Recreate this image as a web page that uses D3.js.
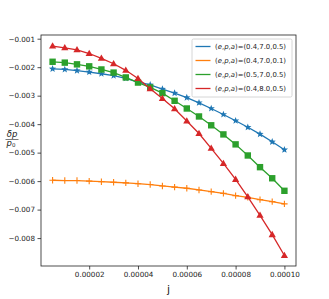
<!DOCTYPE html>
<html>
<head>
<meta charset="utf-8">
<script src="https://cdn.jsdelivr.net/npm/d3@7"></script>
<style>
  html, body { margin: 0; padding: 0; background: #fff; }
  svg { display: block; font-family: "DejaVu Sans", sans-serif; }
</style>
</head>
<body>
<div id="chart"></div>
<script>
// x values (j), 20 steps of 5e-6
const jValues = [5e-6, 1e-5, 1.5e-5, 2e-5, 2.5e-5, 3e-5, 3.5e-5, 4e-5, 4.5e-5, 5e-5,
                 5.5e-5, 6e-5, 6.5e-5, 7e-5, 7.5e-5, 8e-5, 8.5e-5, 9e-5, 9.5e-5, 1e-4];

const seriesA = [-0.00206, -0.00208, -0.00212, -0.00217, -0.00223, -0.00230, -0.00239, -0.00252, -0.00262, -0.00277,
                 -0.00291, -0.00307, -0.00325, -0.00345, -0.00366, -0.00388, -0.00411, -0.00435, -0.00462, -0.00490];
const seriesB = [-0.00597, -0.00598, -0.00598, -0.00600, -0.00602, -0.00604, -0.00606, -0.00609, -0.00612, -0.00617,
                 -0.00621, -0.00625, -0.00631, -0.00637, -0.00643, -0.00651, -0.00657, -0.00665, -0.00672, -0.00680];
const seriesC = [-0.00181, -0.00184, -0.00190, -0.00197, -0.00208, -0.00219, -0.00236, -0.00254, -0.00271, -0.00291,
                 -0.00318, -0.00345, -0.00373, -0.00404, -0.00436, -0.00471, -0.00510, -0.00551, -0.00590, -0.00634];
const seriesD = [-0.00126, -0.00132, -0.00139, -0.00152, -0.00169, -0.00188, -0.00211, -0.00240, -0.00276, -0.00310,
                 -0.00346, -0.00389, -0.00433, -0.00485, -0.00538, -0.00594, -0.00655, -0.00720, -0.00788, -0.00861];

const legendParams = ["(0.4,7.0,0.5)", "(0.4,7.0,0.1)", "(0.5,7.0,0.5)", "(0.4,8.0,0.5)"];
const xTicks = [2e-5, 4e-5, 6e-5, 8e-5, 1e-4];
const yTicks = [-0.001, -0.002, -0.003, -0.004, -0.005, -0.006, -0.007, -0.008];

const series = [
    { values: seriesA, color: "#1f77b4", marker: "star" },
    { values: seriesB, color: "#ff7f0e", marker: "plus" },
    { values: seriesC, color: "#2ca02c", marker: "square" },
    { values: seriesD, color: "#d62728", marker: "triangle" }
];

const width = 329, height = 299;
const m = { left: 41, right: 296, top: 35, bottom: 266 };

const svg = d3.select("#chart").append("svg")
    .attr("width", width)
    .attr("height", height);

const x = d3.scaleLinear().domain([2.5e-7, 1.0475e-4]).range([m.left, m.right]);
const y = d3.scaleLinear().domain([-0.00898, -0.00087]).range([m.bottom, m.top]);

// axes
const xAxis = d3.axisBottom(x).tickValues(xTicks).tickSize(3.5).tickPadding(2.5)
    .tickFormat(d => d.toFixed(5));
const yAxis = d3.axisLeft(y).tickValues(yTicks).tickSize(3.5).tickPadding(2.5)
    .tickFormat(d => "\u2212" + Math.abs(d).toFixed(3));

const gx = svg.append("g").attr("transform", "translate(0," + m.bottom + ")").call(xAxis);
const gy = svg.append("g").attr("transform", "translate(" + m.left + ",0)").call(yAxis);
[gx, gy].forEach(g => {
    g.select(".domain").remove();
    g.selectAll(".tick line").attr("stroke", "#222").attr("stroke-width", 0.8);
    g.selectAll(".tick text").attr("fill", "#222").style("font-size", "7.2px")
        .style("font-family", "'DejaVu Sans', sans-serif");
});

// lines + markers
const line = d3.line().x((d, i) => x(jValues[i])).y(d => y(d));

function drawMarker(g, type, color) {
    if (type === "star") {
        const pts = [];
        for (let k = 0; k < 10; k++) {
            const r = k % 2 === 0 ? 3.8 : 1.6;
            const a = -Math.PI / 2 + k * Math.PI / 5;
            pts.push([r * Math.cos(a), r * Math.sin(a)]);
        }
        g.append("path").attr("d", "M" + pts.join("L") + "Z").attr("fill", color);
    } else if (type === "plus") {
        g.append("path").attr("d", "M-3.2,0H3.2M0,-3.2V3.2")
            .attr("stroke", color).attr("stroke-width", 1.1).attr("fill", "none");
    } else if (type === "square") {
        g.append("rect").attr("x", -3.2).attr("y", -3.2).attr("width", 6.4).attr("height", 6.4).attr("fill", color);
    } else if (type === "triangle") {
        g.append("path").attr("d", "M0,-3.8L3.6,2.5L-3.6,2.5Z").attr("fill", color);
    }
}

series.forEach(s => {
    svg.append("path")
        .datum(s.values)
        .attr("d", line)
        .attr("fill", "none")
        .attr("stroke", s.color)
        .attr("stroke-width", 1.3);
    s.values.forEach((v, i) => {
        const g = svg.append("g").attr("transform", "translate(" + x(jValues[i]) + "," + y(v) + ")");
        drawMarker(g, s.marker, s.color);
    });
});

// frame
svg.append("rect")
    .attr("x", m.left).attr("y", m.top)
    .attr("width", m.right - m.left).attr("height", m.bottom - m.top)
    .attr("fill", "none").attr("stroke", "#222").attr("stroke-width", 0.8);

// legend
const lg = svg.append("g").attr("transform", "translate(192,39)");
lg.append("rect").attr("x", 0).attr("y", 0).attr("width", 100).attr("height", 58)
    .attr("rx", 1.5).attr("fill", "#fff").attr("fill-opacity", 0.8)
    .attr("stroke", "#ccc").attr("stroke-width", 0.8);
legendParams.forEach((p, i) => {
    const yy = 7.5 + i * 14;
    lg.append("line").attr("x1", 3.5).attr("x2", 18.5).attr("y1", yy).attr("y2", yy)
        .attr("stroke", series[i].color).attr("stroke-width", 1.3);
    const t = lg.append("text").attr("x", 23).attr("y", yy + 2.5)
        .style("font-size", "6.9px").attr("fill", "#222");
    t.append("tspan").text("(");
    t.append("tspan").style("font-style", "italic").text("e");
    t.append("tspan").text(",");
    t.append("tspan").style("font-style", "italic").text("p");
    t.append("tspan").text(",");
    t.append("tspan").style("font-style", "italic").text("a");
    t.append("tspan").text(")=" + p);
});

// axis labels
svg.append("text").attr("x", (m.left + m.right) / 2).attr("y", 293)
    .attr("text-anchor", "middle").style("font-size", "11px").attr("fill", "#222").text("j");

// δp / p0 fraction, set left of the y ticks
const yl = svg.append("g").attr("transform", "translate(12,139.5)");
yl.append("text").attr("x", 0).attr("y", -2.2).attr("text-anchor", "middle")
    .style("font-size", "8.5px").style("font-style", "italic").attr("fill", "#222").text("\u03b4p");
yl.append("line").attr("x1", -6.5).attr("x2", 6.5).attr("y1", 0).attr("y2", 0)
    .attr("stroke", "#222").attr("stroke-width", 0.6);
const pl = yl.append("text").attr("x", -1).attr("y", 6.5).attr("text-anchor", "middle")
    .style("font-size", "8.5px").style("font-style", "italic").attr("fill", "#222");
pl.append("tspan").text("p");
pl.append("tspan").attr("dy", 1.2).style("font-size", "5.5px").style("font-style", "normal").text("0");
</script>
</body>
</html>
